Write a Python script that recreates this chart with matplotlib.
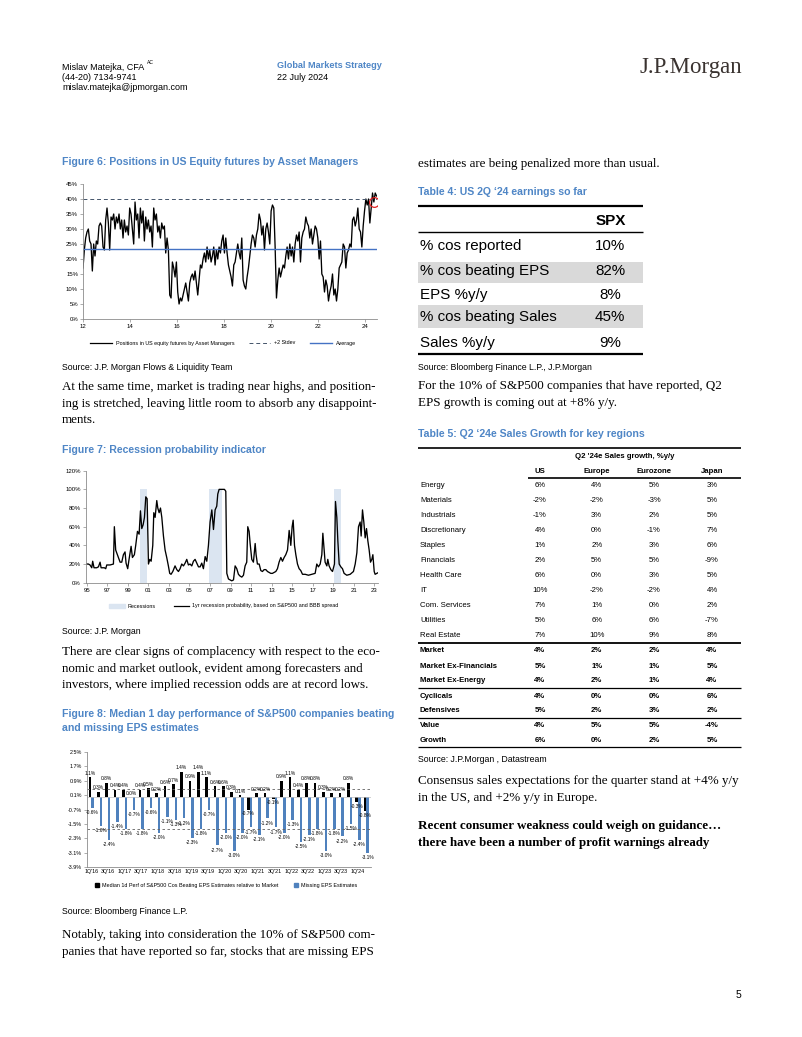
import matplotlib
matplotlib.use("Agg")
import matplotlib.pyplot as plt
import numpy as np
from matplotlib.lines import Line2D
from matplotlib.patches import Patch

W, H = 802, 1037

SANS = 'Liberation Sans'
SERIF = 'Liberation Serif'
TITLE_BLUE = '#4f86c6'

# ---------------- data ----------------
# Figure 6: positions in US equity futures by asset managers (%), 2012 -> mid 2024
pos_values = [17, 23, 27, 29, 30, 26, 25, 16, 25, 21, 26, 25, 31, 32, 31, 24, 23, 33, 37, 32,
              23, 34, 33, 35, 30, 34, 32, 35, 30, 33, 27, 33, 29, 31, 28, 37, 35, 30, 25, 39,
              33, 35, 27, 37, 32, 36, 26, 34, 30, 33, 29, 31, 24, 37, 33, 35, 29, 31, 27, 32,
              30, 31, 22, 27, 23, 8, 7, 19, 17, 14, 19, 9, 5, 7, 6, 8, 10, 12, 9, 6,
              12, 14, 15, 13, 16, 12, 8, 13, 18, 17, 20, 22, 19, 24, 20, 23, 19, 21, 24, 18,
              23, 20, 24, 22, 26, 28, 22, 27, 22, 18, 16, 14, 11, 18, 19, 22, 25, 22, 20, 27,
              13, 11, 10, 14, 17, 21, 25, 28, 27, 24, 28, 30, 35, 33, 28, 31, 23, 30, 32, 29,
              25, 36, 38, 37, 24, 7, 13, 17, 14, 16, 18, 17, 21, 24, 20, 25, 21, 24, 19, 25,
              28, 26, 29, 19, 27, 29, 30, 34, 32, 31, 27, 30, 25, 28, 31, 30, 27, 20, 26, 15,
              14, 9, 13, 11, 6, 9, 11, 15, 8, 10, 6, 10, 17, 18, 19, 25, 24, 17, 22, 23,
              25, 24, 33, 34, 31, 33, 37, 30, 29, 24, 31, 36, 40, 38, 40, 32, 37, 42, 39, 42, 41]
pos_start, pos_end = 2012.0, 2024.49
pos_average = 23.5
pos_two_stdev = 40.0
pos_xticks = [2012, 2014, 2016, 2018, 2020, 2022, 2024]
pos_xticklabels = ['12', '14', '16', '18', '20', '22', '24']

# Figure 7: recession probability
rec_years = [1995.00, 1995.16, 1995.32, 1995.49, 1995.58, 1995.71, 1995.97, 1996.14, 1996.30, 1996.40,
             1996.72, 1996.85, 1996.95, 1997.27, 1997.60, 1997.69, 1997.82, 1998.02, 1998.25, 1998.41,
             1998.57, 1998.73, 1998.83, 1998.99, 1999.12, 1999.32, 1999.45, 1999.64, 1999.77, 1999.94,
             2000.10, 2000.23, 2000.36, 2000.49, 2000.62, 2000.75, 2000.88, 2001.01, 2001.14, 2001.27,
             2001.43, 2001.53, 2001.66, 2001.82, 2001.92, 2002.05, 2002.18, 2002.31, 2002.47, 2002.63,
             2002.79, 2002.95, 2003.08, 2003.21, 2003.38, 2003.60, 2003.77, 2003.93, 2004.09, 2004.25,
             2004.42, 2004.58, 2004.74, 2004.90, 2005.06, 2005.23, 2005.39, 2005.55, 2005.71, 2005.88,
             2006.04, 2006.20, 2006.36, 2006.53, 2006.69, 2006.85, 2007.01, 2007.18, 2007.34, 2007.50,
             2007.66, 2007.76, 2007.89, 2008.15, 2008.41, 2008.54, 2008.64, 2008.80, 2008.96, 2009.12,
             2009.29, 2009.45, 2009.61, 2009.77, 2009.94, 2010.10, 2010.26, 2010.42, 2010.58, 2010.68,
             2010.81, 2010.91, 2011.07, 2011.23, 2011.40, 2011.49, 2011.62, 2011.79, 2011.95, 2012.11,
             2012.27, 2012.44, 2012.60, 2012.76, 2012.92, 2013.08, 2013.25, 2013.41, 2013.57, 2013.73,
             2013.90, 2014.06, 2014.22, 2014.38, 2014.55, 2014.71, 2014.87, 2015.00, 2015.10, 2015.23,
             2015.36, 2015.52, 2015.68, 2015.84, 2016.01, 2016.27, 2016.59, 2016.92, 2017.24, 2017.40,
             2017.56, 2017.73, 2017.89, 2017.99, 2018.12, 2018.21, 2018.38, 2018.47, 2018.60, 2018.77,
             2018.93, 2019.12, 2019.22, 2019.35, 2019.45, 2019.58, 2019.74, 2019.90, 2020.06, 2020.32,
             2020.65, 2020.97, 2021.14, 2021.30, 2021.46, 2021.62, 2021.72, 2021.85, 2021.98, 2022.11,
             2022.24, 2022.37, 2022.50, 2022.63, 2022.76, 2022.86, 2022.99, 2023.08, 2023.25, 2023.41]
rec_prob = [20, 20, 19, 16, 23, 16, 16, 17, 22, 16,
            16, 15, 19, 19, 20, 60, 35, 29, 22, 22,
            30, 33, 21, 15, 25, 39, 27, 30, 40, 55,
            52, 77, 58, 62, 70, 92, 90, 20, 25, 23,
            40, 75, 70, 88, 80, 75, 80, 70, 50, 35,
            27, 18, 10, 9, 12, 18, 14, 12, 15, 20,
            18, 21, 25, 19, 20, 18, 23, 25, 21, 17,
            17, 21, 15, 28, 23, 40, 65, 78, 57, 78,
            82, 95, 100, 100, 100, 98, 10, 4, 3, 2,
            3, 18, 15, 9, 7, 6, 8, 18, 22, 60,
            55, 42, 25, 22, 42, 30, 20, 20, 13, 12,
            14, 14, 12, 11, 10, 10, 11, 12, 15, 22,
            27, 23, 27, 30, 35, 56, 40, 60, 67, 40,
            30, 20, 15, 13, 9, 9, 8, 9, 10, 20,
            17, 20, 30, 53, 35, 22, 18, 25, 18, 14,
            12, 20, 87, 70, 45, 20, 17, 15, 10, 8,
            9, 12, 20, 32, 60, 65, 50, 78, 65, 48,
            58, 45, 35, 22, 25, 30, 12, 9, 10, 11]
recessions = [(2000.19, 2000.91), (2006.92, 2008.15), (2019.12, 2019.77)]
rec_xticks = list(range(1995, 2024, 2))
rec_xticklabels = ['95', '97', '99', '01', '03', '05', '07', '09', '11', '13', '15', '17', '19', '21', '23']

# Figure 8: median 1d performance beating / missing EPS estimates (%)
quarters = ["1Q'16", "2Q'16", "3Q'16", "4Q'16", "1Q'17", "2Q'17", "3Q'17", "4Q'17",
            "1Q'18", "2Q'18", "3Q'18", "4Q'18", "1Q'19", "2Q'19", "3Q'19", "4Q'19",
            "1Q'20", "2Q'20", "3Q'20", "4Q'20", "1Q'21", "2Q'21", "3Q'21", "4Q'21",
            "1Q'22", "2Q'22", "3Q'22", "4Q'22", "1Q'23", "2Q'23", "3Q'23", "4Q'23",
            "1Q'24", "2Q'24"]
beat = [1.1, 0.3, 0.8, 0.4, 0.4, 0.0, 0.4, 0.5, 0.2, 0.6, 0.7, 1.4, 0.9, 1.4, 1.1, 0.6, 0.6,
        0.3, 0.1, -0.7, 0.2, 0.2, -0.1, 0.9, 1.1, 0.4, 0.8, 0.8, 0.3, 0.2, 0.2, 0.8, -0.3, -0.8]
miss = [-0.6, -1.6, -2.4, -1.4, -1.8, -0.7, -1.8, -0.6, -2.0, -1.1, -1.3, -1.2, -2.3, -1.8, -0.7,
        -2.7, -2.0, -3.0, -2.0, -1.7, -2.1, -1.2, -1.7, -2.0, -1.3, -2.5, -2.1, -1.8, -3.0, -1.8,
        -2.2, -1.5, -2.4, -3.1]
perf_yticks = [2.5, 1.7, 0.9, 0.1, -0.7, -1.5, -2.3, -3.1, -3.9]

# Table 4
t4_rows = ['% cos reported', '% cos beating EPS', 'EPS %y/y', '% cos beating Sales', 'Sales %y/y']
t4_spx = ['10%', '82%', '8%', '45%', '9%']

# Table 5
t5_cols = ['US', 'Europe', 'Eurozone', 'Japan']
t5_rows = ['Energy', 'Materials', 'Industrials', 'Discretionary', 'Staples', 'Financials',
           'Health Care', 'IT', 'Com. Services', 'Utilities', 'Real Estate', 'Market',
           'Market Ex-Financials', 'Market Ex-Energy', 'Cyclicals', 'Defensives', 'Value', 'Growth']
t5_us = ['6%', '-2%', '-1%', '4%', '1%', '2%', '6%', '10%', '7%', '5%', '7%', '4%', '5%', '4%', '4%', '5%', '4%', '6%']
t5_eu = ['4%', '-2%', '3%', '0%', '2%', '5%', '0%', '-2%', '1%', '6%', '10%', '2%', '1%', '2%', '0%', '2%', '5%', '0%']
t5_ez = ['5%', '-3%', '2%', '-1%', '3%', '5%', '3%', '-2%', '0%', '6%', '9%', '2%', '1%', '1%', '0%', '3%', '5%', '2%']
t5_jp = ['3%', '5%', '5%', '7%', '6%', '-9%', '5%', '4%', '2%', '-7%', '8%', '4%', '5%', '4%', '6%', '2%', '-4%', '5%']

# ---------------- page ----------------
fig = plt.figure(figsize=(W / 100, H / 100), dpi=100)
fig.patch.set_facecolor('white')
page = fig.add_axes([0, 0, 1, 1])
page.set_xlim(0, W)
page.set_ylim(H, 0)
page.axis('off')

BODY = 9.4      # serif body text
SRC = 6.3       # "Source:" lines
TITLE = 7.6     # blue figure/table titles


def px_axes(x0, y0, x1, y1):
    return fig.add_axes([x0 / W, 1 - y1 / H, (x1 - x0) / W, (y1 - y0) / H])


def txt(x, y, s, size, family=SANS, **kw):
    kw.setdefault('va', 'center')
    page.text(x, y, s, fontsize=size, family=family, **kw)


def rule(x0, x1, y, lw):
    page.plot([x0, x1], [y, y], color='black', lw=lw, solid_capstyle='butt')


def paragraph(x, y0, lines, **kw):
    for i, line in enumerate(lines):
        txt(x, y0 + i * 16.6, line, BODY, SERIF, **kw)


def style_axes(ax, labelsize=4.3):
    for s in ['top', 'right']:
        ax.spines[s].set_visible(False)
    for s in ['left', 'bottom']:
        ax.spines[s].set_color('#8c8c8c')
        ax.spines[s].set_linewidth(0.6)
    ax.tick_params(direction='out', length=2, width=0.5, color='#8c8c8c',
                   labelsize=labelsize, pad=1.5)
    for lab in ax.get_xticklabels() + ax.get_yticklabels():
        lab.set_family(SANS)


# header
txt(62, 67, 'Mislav Matejka, CFA', 6.5)
txt(147, 62.5, 'AC', 3.6)
txt(62, 78, '(44-20) 7134-9741', 6.5)
txt(62, 88, 'mislav.matejka@jpmorgan.com', 6.5)
txt(277, 66, 'Global Markets Strategy', 6.6, color=TITLE_BLUE, fontweight='bold')
txt(277, 77, '22 July 2024', 6.5)
txt(742, 68, 'J.P.Morgan', 16.5, SERIF, ha='right', color='#3a3330')

# ---- left column ----
txt(62, 162, 'Figure 6: Positions in US Equity futures by Asset Managers', TITLE,
    color=TITLE_BLUE, fontweight='bold')

ax6 = px_axes(83, 184, 377, 319)
dates6 = np.linspace(pos_start, pos_end, len(pos_values))
ax6.plot(dates6, pos_values, color='black', lw=0.95)
ax6.axhline(pos_two_stdev, color='#44546a', lw=0.7, ls=(0, (4, 3)))
ax6.axhline(pos_average, color='#4472c4', lw=1.0)
ax6.plot(dates6[-3], pos_values[-3], 'o', ms=7, mfc='none', mec='#e02020', mew=0.9)
ax6.set_xlim(2012, 2024.51)
ax6.set_ylim(0, 45)
ax6.set_yticks(range(0, 46, 5))
ax6.set_yticklabels([f'{v}%' for v in range(0, 46, 5)])
ax6.set_xticks(pos_xticks)
ax6.set_xticklabels(pos_xticklabels)
style_axes(ax6)
handles6 = [Line2D([], [], color='black', lw=0.9),
            Line2D([], [], color='#44546a', lw=0.7, ls=(0, (4, 3))),
            Line2D([], [], color='#4472c4', lw=1.0)]
fig.legend(handles6, ['Positions in US equity futures by Asset Managers', '+2 Stdev', 'Average'],
           loc='center', bbox_to_anchor=(223 / W, 1 - 343 / H), ncol=3, frameon=False,
           prop={'family': SANS, 'size': 3.9}, handlelength=4, columnspacing=2.6, handletextpad=0.75)

txt(62, 367, 'Source: J.P. Morgan Flows & Liquidity Team', SRC)
paragraph(62, 387, ['At the same time, market is trading near highs, and position-',
                    'ing is stretched, leaving little room to absorb any disappoint-',
                    'ments.'])

txt(62, 450, 'Figure 7: Recession probability indicator', TITLE,
    color=TITLE_BLUE, fontweight='bold')
ax7 = px_axes(85.7, 470.7, 378, 582.7)
for a, b in recessions:
    ax7.axvspan(a, b, ymin=0, ymax=100 / 120, color='#dbe5f1', lw=0)
ax7.plot(rec_years, rec_prob, color='black', lw=0.95)
ax7.set_xlim(1994.9, 2023.36)
ax7.set_ylim(0, 120)
ax7.set_yticks(range(0, 121, 20))
ax7.set_yticklabels([f'{v}%' for v in range(0, 121, 20)])
ax7.set_xticks(rec_xticks)
ax7.set_xticklabels(rec_xticklabels)
style_axes(ax7)
handles7 = [Patch(color='#dbe5f1'), Line2D([], [], color='black', lw=0.9)]
fig.legend(handles7, ['Recessions', '1yr recession probability, based on S&P500 and BBB spread'],
           loc='center', bbox_to_anchor=(224 / W, 1 - 606 / H), ncol=2, frameon=False,
           prop={'family': SANS, 'size': 3.9}, handlelength=2.8, columnspacing=3.3, handletextpad=0.6)

txt(62, 632, 'Source: J.P. Morgan', SRC)
paragraph(62, 652, ['There are clear signs of complacency with respect to the eco-',
                    'nomic and market outlook, evident among forecasters and',
                    'investors, where implied recession odds are at record lows.'])

txt(62, 714, 'Figure 8: Median 1 day performance of S&P500 companies beating', TITLE,
    color=TITLE_BLUE, fontweight='bold')
txt(62, 728, 'and missing EPS estimates', TITLE, color=TITLE_BLUE, fontweight='bold')

ax8 = px_axes(87, 752, 370.5, 867)
xq = np.arange(len(quarters))
bb = ax8.bar(xq - 0.16, beat, width=0.32, color='black')
bm = ax8.bar(xq + 0.16, miss, width=0.3, color='#4f81bd')
ax8.axhline(np.mean(beat), color='#606060', lw=0.6, ls=(0, (3, 3)))
ax8.axhline(np.mean(miss), color='#606060', lw=0.6, ls=(0, (3, 3)))
ax8.axhline(0, color='#bfbfbf', lw=0.5)
ax8.bar_label(bb, labels=[f'{v:.1f}%' for v in beat], padding=1, fontsize=3.5, family=SANS)
ax8.bar_label(bm, labels=[f'{v:.1f}%' for v in miss], padding=1.5, fontsize=3.5, family=SANS)
ax8.set_xlim(-0.5, len(quarters) - 0.5)
ax8.set_ylim(-3.9, 2.5)
ax8.set_yticks(perf_yticks)
ax8.set_yticklabels([f'{v:.1f}%' for v in perf_yticks])
ax8.set_xticks(xq[::2])
ax8.set_xticklabels(quarters[::2])
style_axes(ax8, labelsize=3.9)
ax8.tick_params(axis='x', length=0)
handles8 = [Patch(color='black'), Patch(color='#4f81bd')]
fig.legend(handles8, ['Median 1d Perf of S&P500 Cos Beating EPS Estimates relative to Market',
                      'Missing EPS Estimates'],
           loc='center', bbox_to_anchor=(226 / W, 1 - 885 / H), ncol=2, frameon=False,
           prop={'family': SANS, 'size': 3.9}, handlelength=0.7, handleheight=0.7,
           columnspacing=3, handletextpad=0.5)

txt(62, 912, 'Source: Bloomberg Finance L.P.', SRC)
paragraph(62, 935, ['Notably, taking into consideration the 10% of S&P500 com-',
                    'panies that have reported so far, stocks that are missing EPS'])

# ---- right column ----
paragraph(418, 164, ['estimates are being penalized more than usual.'])
txt(418, 192, "Table 4: US 2Q \u201824 earnings so far", TITLE,
    color=TITLE_BLUE, fontweight='bold')

t4_y = [245.7, 270.7, 295, 316.7, 343.3]
page.add_patch(plt.Rectangle((418, 261.5), 225, 21.8, color='#d9d9d9', lw=0))
page.add_patch(plt.Rectangle((418, 305), 225, 22.5, color='#d9d9d9', lw=0))
rule(418, 643, 206, 1.6)
rule(418, 643, 231.7, 1.0)
rule(418, 643, 354, 1.6)
txt(611, 220.7, 'SPX', 11, ha='center', fontweight='bold')
for y, lab, val in zip(t4_y, t4_rows, t4_spx):
    txt(420, y, lab, 10.9)
    txt(610, y, val, 10.9, ha='center')

txt(418, 367, 'Source: Bloomberg Finance L.P., J.P.Morgan', SRC)
paragraph(418, 386, ['For the 10% of S&P500 companies that have reported, Q2',
                     'EPS growth is coming out at +8% y/y.'])

txt(418, 434, "Table 5: Q2 \u201824e Sales Growth for key regions", TITLE,
    color=TITLE_BLUE, fontweight='bold')
T5 = 5.6
rule(418, 741, 448.3, 1.2)
txt(625, 456.5, "Q2 '24e Sales growth, %y/y", T5, ha='center', fontweight='bold')
col_x = [540, 596.7, 654, 712]
for cx, c in zip(col_x, t5_cols):
    txt(cx, 471.7, c, T5, ha='center', fontweight='bold')
rule(528, 741, 478.3, 1.2)
for i, (lab, us, eu, ez, jp) in enumerate(zip(t5_rows, t5_us, t5_eu, t5_ez, t5_jp)):
    if i < 11:
        y = 485.7 + i * 15.0
    elif i < 14:
        y = 651 + (i - 11) * 15.0
    elif i < 16:
        y = 696 + (i - 14) * 14.8
    else:
        y = 725.5 + (i - 16) * 14.8
    w = 'bold' if i >= 11 else 'normal'
    txt(420, y, lab, T5, fontweight=w)
    for cx, v in zip(col_x, (us, eu, ez, jp)):
        txt(cx, y, v, T5, ha='center', fontweight=w)
rule(418, 741, 642.7, 1.3)
rule(418, 741, 688, 0.9)
rule(418, 741, 717.7, 0.9)
rule(418, 741, 747.3, 0.9)

txt(418, 759, 'Source: J.P.Morgan , Datastream', SRC)
paragraph(418, 781, ['Consensus sales expectations for the quarter stand at +4% y/y',
                     'in the US, and +2% y/y in Europe.'])
paragraph(418, 826, ['Recent consumer weakness could weigh on guidance\u2026',
                     'there have been a number of profit warnings already'], fontweight='bold')

txt(741, 995, '5', 7.5, ha='right')

fig.savefig('out.png', dpi=100)
